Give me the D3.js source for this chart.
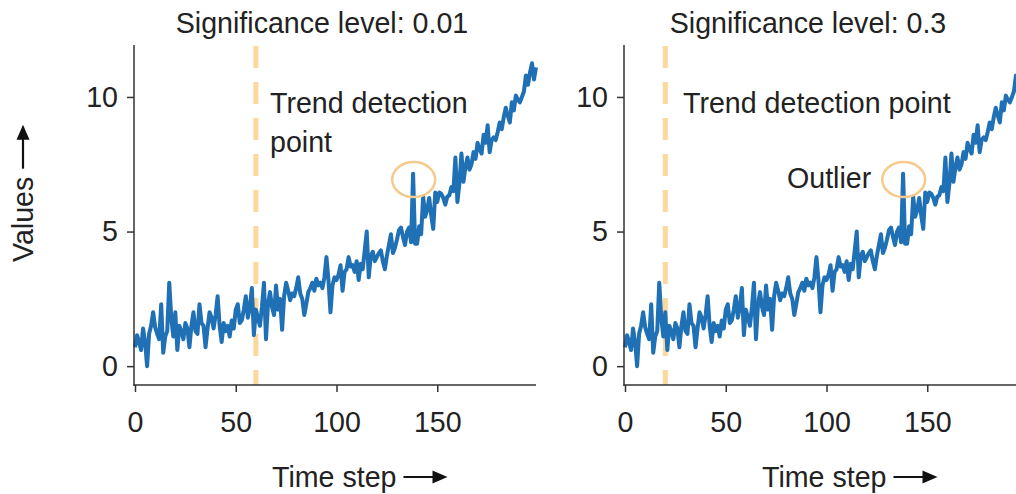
<!DOCTYPE html>
<html>
<head>
<meta charset="utf-8">
<script src="https://cdn.jsdelivr.net/npm/d3@7"></script>
<style>
  body { margin: 0; background: #fff; }
  svg { display: block; font-family: "Liberation Sans", Arial, sans-serif; }
</style>
</head>
<body>
<div id="chart"></div>
<script>
// values, one per time step (0..199)
const values = [
  0.7, 1.15, 0.9, 0.6, 1.4, 0.9, 0.0, 1.2, 1.5, 2.0,
  1.45, 1.2, 1.0, 2.3, 0.5, 1.1, 1.3, 3.1, 1.8, 1.1,
  2.0, 0.6, 1.5, 1.3, 1.0, 1.6, 1.4, 0.7, 1.5, 2.0,
  1.3, 1.2, 2.3, 1.6, 1.5, 0.7, 1.4, 2.0, 1.8, 1.4,
  1.9, 2.6, 1.5, 0.9, 1.6, 1.3, 1.5, 1.1, 1.7, 1.4,
  2.1, 2.3, 1.6, 1.7, 2.1, 2.6, 1.8, 2.2, 2.9, 1.15,
  2.1, 1.8, 1.5, 2.2, 3.1, 1.0, 2.3, 2.75, 2.2, 1.9,
  3.0, 2.1, 2.5, 1.35, 2.6, 3.1, 2.8, 2.45, 2.7, 2.6,
  2.9, 3.3, 2.7, 2.5, 1.9, 2.3, 2.75, 2.9, 3.1, 2.8,
  3.25, 3.0, 3.1, 2.9, 3.3, 4.05, 3.2, 2.0, 3.0, 3.3,
  3.2, 3.4, 3.75, 2.8, 3.5, 3.6, 4.05, 3.7, 3.75, 3.5,
  3.9, 3.2, 3.8, 3.6, 4.3, 5.0, 3.3, 4.1, 4.25, 3.9,
  4.05, 4.2, 4.3, 3.9, 3.6, 4.1, 4.5, 4.9, 4.2, 4.4,
  4.7, 5.05, 5.15, 4.8, 4.5, 5.0, 5.15, 4.6, 7.15, 4.55,
  4.55, 5.2, 4.9, 6.3, 5.55, 5.8, 6.25, 5.6, 5.1, 6.45,
  6.1, 6.45, 6.4, 6.25, 6.0, 6.3, 6.35, 6.65, 6.5, 7.75,
  6.1, 6.8, 7.9, 6.85, 7.4, 7.75, 7.3, 7.5, 7.95, 7.7,
  8.3, 8.05, 7.9, 8.6, 8.3, 8.95, 7.95, 8.4, 8.5, 8.4,
  8.7, 9.05, 8.8, 9.25, 9.6, 9.3, 9.05, 9.8, 9.5, 10.05,
  9.9, 9.8, 10.0, 10.2, 10.8, 10.45, 10.9, 11.25, 10.65, 11.1
]
const xTicks = [0, 50, 100, 150]
const yTicks = [0, 5, 10]
const titles = ["Significance level: 0.01", "Significance level: 0.3"]
const detectionSteps = [60, 20]
const outlierStep = 138.3
const outlierValue = 6.93

const W = 1016, H = 494
const FONT = 28.6
const blue = "#1f70b5"
const dashColor = "#fdd89c"
const ringColor = "#f6ca8c"
const ink = "#222"

const svg = d3.select("#chart").append("svg")
  .attr("width", W)
  .attr("height", H)
  .style("background", "#fff")

// small arrow: line plus filled head, drawn along +x
const drawArrow = (g, x, y, len) => {
  g.append("line")
    .attr("x1", x).attr("x2", x + len - 12)
    .attr("y1", y).attr("y2", y)
    .attr("stroke", "#111").attr("stroke-width", 2.2)
  g.append("path")
    .attr("d", `M${x + len - 15},${y - 6.5}L${x + len},${y}L${x + len - 15},${y + 6.5}Z`)
    .attr("fill", "#111")
}

const panels = [
  { left: 134, title: titles[0], titleX: 322, detect: detectionSteps[0], showYLabel: true },
  { left: 624, title: titles[1], titleX: 808, detect: detectionSteps[1], showYLabel: false }
]

const plotTop = 45, plotBottom = 385

panels.forEach((p, i) => {
  const g = svg.append("g")

  const x = d3.scaleLinear().domain([0, 199]).range([p.left + 1, p.left + 402])
  const y = d3.scaleLinear().domain([-0.7, 11.93]).range([plotBottom, plotTop])

  // 趋势检测点 dashed line
  g.append("line")
    .attr("x1", x(p.detect)).attr("x2", x(p.detect))
    .attr("y1", plotTop + 1).attr("y2", plotBottom)
    .attr("stroke", dashColor)
    .attr("stroke-width", 5)
    .attr("stroke-dasharray", "22,14")

  // series line
  const line = d3.line()
    .x((d, j) => x(j))
    .y(d => y(d))
  g.append("path")
    .datum(values)
    .attr("d", line)
    .attr("fill", "none")
    .attr("stroke", blue)
    .attr("stroke-width", 4)
    .attr("stroke-linejoin", "round")

  // outlier ring
  g.append("ellipse")
    .attr("cx", x(outlierStep))
    .attr("cy", y(outlierValue))
    .attr("rx", 21.5).attr("ry", 17.5)
    .attr("fill", "none")
    .attr("stroke", ringColor)
    .attr("stroke-width", 2.5)

  // axes
  const xAxis = d3.axisBottom(x).tickValues(xTicks).tickSize(7).tickPadding(20).tickSizeOuter(0)
  const yAxis = d3.axisLeft(y).tickValues(yTicks).tickSize(7).tickPadding(9).tickSizeOuter(0)

  const gx = g.append("g").attr("transform", `translate(0,${plotBottom})`).call(xAxis)
  const gy = g.append("g").attr("transform", `translate(${p.left},0)`).call(yAxis)
  ;[gx, gy].forEach(a => {
    a.select(".domain").remove()
    a.selectAll(".tick line").attr("stroke", "#333").attr("stroke-width", 1.5)
    a.selectAll(".tick text").style("font-size", FONT + "px").attr("fill", ink)
      .style("font-family", "Liberation Sans, Arial, sans-serif")
  })

  // spines
  g.append("line")
    .attr("x1", p.left).attr("x2", p.left)
    .attr("y1", plotTop).attr("y2", plotBottom + 0.75)
    .attr("stroke", "#333").attr("stroke-width", 1.5)
  g.append("line")
    .attr("x1", p.left - 0.75).attr("x2", p.left + 402)
    .attr("y1", plotBottom).attr("y2", plotBottom)
    .attr("stroke", "#333").attr("stroke-width", 1.5)

  // title
  g.append("text")
    .attr("x", p.titleX).attr("y", 33)
    .attr("text-anchor", "middle")
    .style("font-size", FONT + "px")
    .attr("fill", ink)
    .text(p.title)

  // x label with arrow
  const xl = g.append("text")
    .attr("x", p.left + 138).attr("y", 487)
    .style("font-size", FONT + "px")
    .attr("fill", ink)
    .text("Time step")
  const xlw = xl.node().getComputedTextLength()
  drawArrow(g, p.left + 138 + xlw + 7, 477, 44)

  // annotations
  if (i === 0) {
    g.append("text").attr("x", 270).attr("y", 113)
      .style("font-size", FONT + "px").attr("fill", ink).text("Trend detection")
    g.append("text").attr("x", 270).attr("y", 152)
      .style("font-size", FONT + "px").attr("fill", ink).text("point")
  } else {
    g.append("text").attr("x", 683).attr("y", 113)
      .style("font-size", FONT + "px").attr("fill", ink).text("Trend detection point")
    g.append("text").attr("x", 787).attr("y", 188)
      .style("font-size", FONT + "px").attr("fill", ink).text("Outlier")
  }

  if (p.showYLabel) {
    const yl = svg.append("g").attr("transform", "translate(33,262) rotate(-90)")
    const t = yl.append("text")
      .attr("x", 0).attr("y", 0)
      .style("font-size", FONT + "px")
      .attr("fill", ink)
      .text("Values")
    const tw = t.node().getComputedTextLength()
    drawArrow(yl, tw + 8, -10, 44)
  }
})
</script>
</body>
</html>
